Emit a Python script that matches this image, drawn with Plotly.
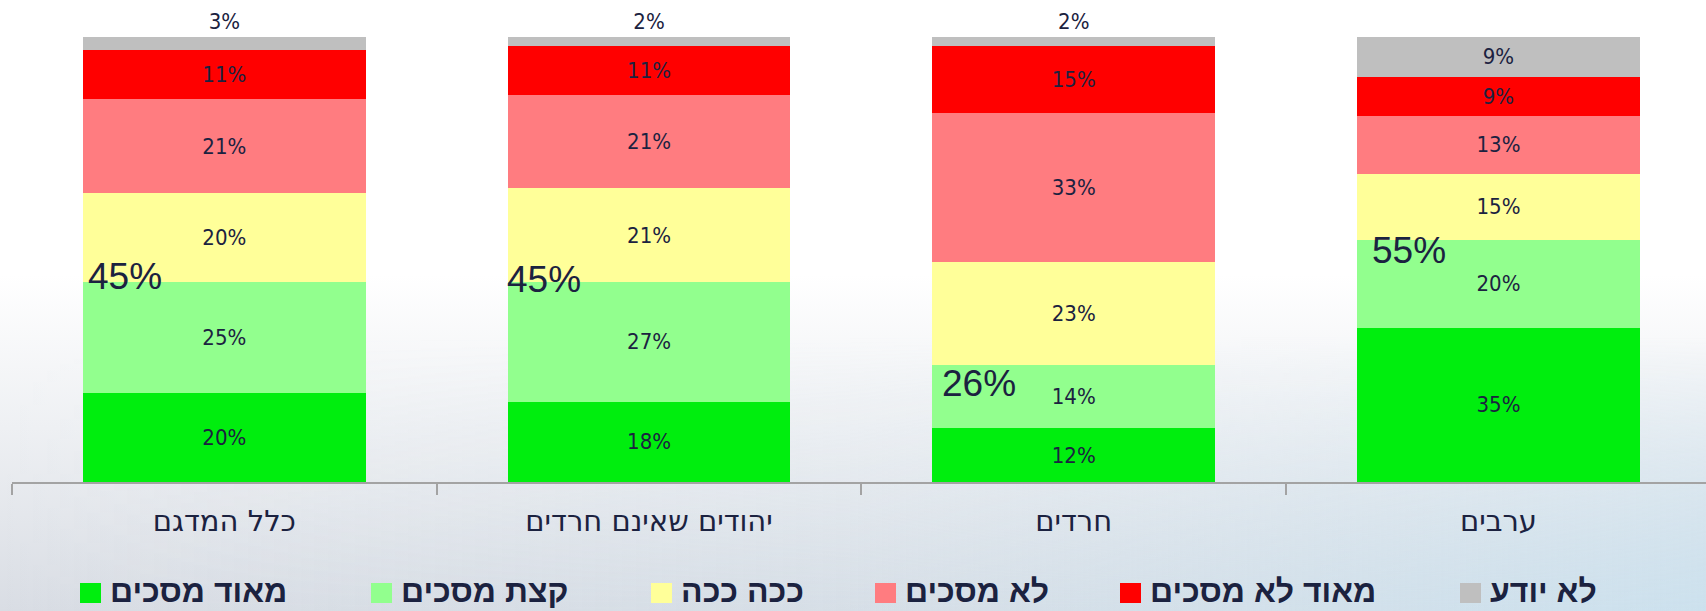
import base64
import plotly.graph_objects as go

# ---------------- data ----------------
categories = ["כלל המדגם", "יהודים שאינם חרדים", "חרדים", "ערבים"]
series_names = ["מאוד מסכים", "קצת מסכים", "ככה ככה", "לא מסכים", "מאוד לא מסכים", "לא יודע"]
strongly_agree = [20, 18, 12, 35]
somewhat_agree = [25, 27, 14, 20]
so_so = [20, 21, 23, 15]
disagree = [21, 21, 33, 13]
strongly_disagree = [11, 11, 15, 9]
dont_know = [3, 2, 2, 9]
agree_totals = [45, 45, 26, 55]

# ---------------- styles ----------------
W, H = 1706, 611
ML, MR, MT, MB = 12, 0, 37, 129
PW, PH = W - ML - MR, H - MT - MB
CAT_PX = 424.7
colors = ["#00EE0E", "#92FF8E", "#FFFF99", "#FF7C80", "#FF0000", "#BFBFBF"]
TXT = "#1b2240"
label_font = dict(family="DejaVu Sans Condensed, DejaVu Sans, sans-serif", size=22, color=TXT)

series = [strongly_agree, somewhat_agree, so_so, disagree, strongly_disagree, dont_know]

fig = go.Figure()
for i, (name, vals, col) in enumerate(zip(series_names, series, colors)):
    if i == len(series) - 1:
        pos = ["outside" if v < 5 else "inside" for v in vals]
    else:
        pos = "inside"
    fig.add_trace(go.Bar(
        x=categories, y=vals, name=name,
        marker=dict(color=col, line=dict(width=0)),
        text=vals, texttemplate="%{text}%",
        textposition=pos, insidetextanchor="middle", textangle=0,
        constraintext="none",
        insidetextfont=label_font, outsidetextfont=label_font,
        cliponaxis=False, showlegend=False, hoverinfo="skip",
    ))

# totals annotations (agree share)
xshift = [3, -3, 8, 13]
yshift = [5, 2, -18, -11]
row_totals = [sum(s[k] for s in series) for k in range(len(categories))]
half_bar = (1 - 0.334) / 2
for k, cat in enumerate(categories):
    fig.add_annotation(
        x=k - half_bar, y=agree_totals[k] / row_totals[k] * 100,
        xref="x", yref="y", text=f"{agree_totals[k]}%", showarrow=False,
        xanchor="left", yanchor="middle", xshift=xshift[k], yshift=yshift[k],
        font=dict(family="Liberation Sans, Arial, sans-serif", size=37, color=TXT),
    )

# custom legend (square on the left of the text)
leg_x = [80, 371, 651, 875, 1120, 1460]
leg_y0, leg_y1 = 583, 603
def px2paper_x(px):
    return (px - ML) / PW
def px2paper_y(py):
    return (MT + PH - py) / PH
for name, col, lx in zip(series_names, colors, leg_x):
    fig.add_shape(type="rect", xref="paper", yref="paper",
                  x0=px2paper_x(lx), x1=px2paper_x(lx + 21),
                  y0=px2paper_y(leg_y1), y1=px2paper_y(leg_y0),
                  fillcolor=col, line=dict(width=0))
    fig.add_annotation(
        xref="paper", yref="paper", x=px2paper_x(lx + 29), y=px2paper_y(591),
        text=f"<b>{name}</b>", showarrow=False, xanchor="left", yanchor="middle",
        borderpad=0,
        font=dict(family="Liberation Sans, Arial, sans-serif", size=32, color=TXT),
    )

# background gradient
svg = f'''<svg xmlns="http://www.w3.org/2000/svg" width="{W}" height="{H}" viewBox="0 0 {W} {H}" preserveAspectRatio="none">
<defs>
<linearGradient id="v" x1="0" y1="0" x2="0" y2="1">
<stop offset="0" stop-color="#ffffff"/>
<stop offset="0.45" stop-color="#ffffff"/>
<stop offset="0.70" stop-color="#eef0f3"/>
<stop offset="1" stop-color="#d9dde4"/>
</linearGradient>
<linearGradient id="h" x1="0" y1="0" x2="1" y2="0">
<stop offset="0" stop-color="#cfe4f0" stop-opacity="0"/>
<stop offset="0.5" stop-color="#cfe4f0" stop-opacity="0.25"/>
<stop offset="1" stop-color="#c9e2f0" stop-opacity="0.8"/>
</linearGradient>
<linearGradient id="m" x1="0" y1="0" x2="0" y2="1">
<stop offset="0" stop-color="#fff" stop-opacity="0"/>
<stop offset="0.55" stop-color="#fff" stop-opacity="0"/>
<stop offset="1" stop-color="#fff" stop-opacity="1"/>
</linearGradient>
<mask id="mk"><rect width="{W}" height="{H}" fill="url(#m)"/></mask>
</defs>
<rect width="{W}" height="{H}" fill="url(#v)"/>
<rect width="{W}" height="{H}" fill="url(#h)" mask="url(#mk)"/>
</svg>'''
src = "data:image/svg+xml;base64," + base64.b64encode(svg.encode()).decode()
fig.add_layout_image(dict(source=src, xref="paper", yref="paper",
                          x=-ML / PW, y=1 + MT / PH, sizex=W / PW, sizey=H / PH,
                          xanchor="left", yanchor="top", sizing="stretch", layer="below"))

fig.update_layout(
    width=W, height=H,
    margin=dict(l=ML, r=MR, t=MT, b=MB, pad=0),
    barmode="stack", barnorm="percent", bargap=0.334,
    paper_bgcolor="white", plot_bgcolor="rgba(0,0,0,0)",
    showlegend=False,
    xaxis=dict(
        range=[-0.5, -0.5 + PW / CAT_PX], showgrid=False, zeroline=False,
        showline=True, linecolor="#a3a3a3", linewidth=2,
        ticks="outside", tickson="boundaries", ticklen=11, tickcolor="#a3a3a3", tickwidth=2,
        tickfont=dict(family="DejaVu Sans, sans-serif", size=29, color=TXT),
        ticklabelstandoff=12, fixedrange=True,
    ),
    yaxis=dict(range=[0, 100], visible=False, showgrid=False, zeroline=False, fixedrange=True),
)

fig.write_html(
    "out.html",
    config={"displayModeBar": False, "staticPlot": True},
    post_script="document.body.style.margin='0';document.body.style.overflow='hidden';",
)
